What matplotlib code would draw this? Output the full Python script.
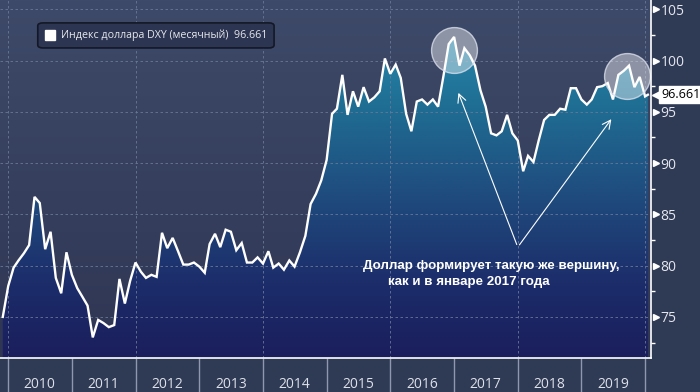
import matplotlib
matplotlib.use("Agg")
import matplotlib.pyplot as plt
import matplotlib.dates as mdates
import matplotlib.transforms as mtransforms
from matplotlib.colors import LinearSegmentedColormap
from matplotlib.patches import FancyBboxPatch
import numpy as np
import pandas as pd

# monthly DXY closes, Nov 2009 .. Dec 2019 (plotted at the start of the next month)
dxy = [75.0, 78.0,
       79.8, 80.5, 81.2, 82.0, 86.7, 86.1, 81.6, 83.3, 78.8, 77.3, 81.3, 79.1,
       77.8, 77.0, 76.1, 73.0, 74.7, 74.4, 74.0, 74.2, 78.7, 76.3, 78.5, 80.3,
       79.4, 78.8, 79.1, 78.9, 83.2, 81.7, 82.7, 81.4, 80.1, 80.1, 80.3, 79.9,
       79.3, 82.1, 83.1, 81.8, 83.5, 83.3, 81.5, 82.2, 80.3, 80.3, 80.8, 80.2,
       81.4, 79.8, 80.2, 79.6, 80.5, 79.9, 81.3, 82.9, 86.0, 87.0, 88.3, 90.3,
       94.8, 95.3, 98.6, 94.7, 97.0, 95.5, 97.4, 96.0, 96.4, 97.0, 100.2, 98.7,
       99.6, 98.3, 94.8, 93.1, 96.0, 96.2, 95.7, 96.2, 95.5, 98.5, 101.6, 102.3,
       99.5, 101.2, 100.5, 99.5, 97.1, 95.5, 92.9, 92.7, 93.1, 94.7, 92.9, 92.2,
       89.2, 90.7, 90.1, 92.2, 94.2, 94.7, 94.7, 95.3, 95.2, 97.3, 97.3, 96.2,
       95.7, 96.2, 97.4, 97.5, 97.8, 96.2, 98.6, 99.0, 99.5, 97.4, 98.4, 96.5]
last_date = "2020-01-17"
last_value = 96.661

dates = list(pd.date_range("2009-12-01", "2020-01-01", freq="MS")) + [pd.Timestamp(last_date)]
values = dxy + [last_value]

years = list(range(2010, 2020))
y_ticks = [75, 80, 85, 90, 95, 100, 105]

legend_text = "Индекс доллара DXY (месячный)  96.661"
note_line1 = "Доллар формирует такую же вершину,"
note_line2 = "как и в январе 2017 года"

# highlighted tops and arrow targets
circles = [("2017-01-01", 101.0), ("2019-09-22", 98.5)]
arrow_from = ("2018-01-01", 81.8)
arrow_to = [("2017-01-20", 97.1), ("2019-07-01", 94.5)]

fig = plt.figure(figsize=(7, 3.92), dpi=100, facecolor="#2f3a55")
ax = fig.add_axes([0.0, 0.087, 0.93, 0.913])

x0 = mdates.date2num(pd.Timestamp("2009-11-15"))
x1 = mdates.date2num(pd.Timestamp("2020-02-04"))
ax.set_xlim(x0, x1)
ax.set_ylim(71.0, 105.9)

# background gradient
bg = LinearSegmentedColormap.from_list("bg", ["#2f3654", "#3e4a69"])
ax.imshow(np.linspace(0, 1, 256).reshape(-1, 1), cmap=bg, origin="lower",
          extent=[0, 1, 0, 1], transform=ax.transAxes, aspect="auto", zorder=0)

# area fill gradient clipped to the curve
xs = mdates.date2num(dates)
fill = ax.fill_between(xs, values, 60, facecolor="none", edgecolor="none")
fc = LinearSegmentedColormap.from_list(
    "fc", [(0, "#1b1e5c"), (0.2, "#1c2c6a"), (0.45, "#1f4b7e"),
           (0.7, "#1f6d93"), (1.0, "#2b93b6")])
img = ax.imshow(np.linspace(0, 1, 256).reshape(-1, 1), cmap=fc, origin="lower",
                extent=[0, 1, 0, 1], transform=ax.transAxes, aspect="auto", zorder=1)
path = fill.get_paths()[0]
img.set_clip_path(path, transform=ax.transData)

ax.plot(xs, values, color="white", lw=1.7, zorder=4, solid_joinstyle="miter")

# grid
for y in y_ticks:
    ax.axhline(y, color="#6a7896", lw=0.6, ls=(0, (3, 3)), zorder=2)
for yr in range(2010, 2021, 2):
    ax.axvline(mdates.date2num(pd.Timestamp(f"{yr}-01-01")), color="#6a7896",
               lw=0.6, ls=(0, (3, 3)), zorder=2)

# spines
for s in ["top", "left"]:
    ax.spines[s].set_visible(False)
for s in ["right", "bottom"]:
    ax.spines[s].set_color("white")
    ax.spines[s].set_linewidth(1.2)
    ax.spines[s].set_zorder(6)

# x axis: year separators + centered labels
ax.set_xticks([mdates.date2num(pd.Timestamp(f"{y}-01-01")) for y in years + [2020]])
ax.set_xticklabels([])
ax.set_xticks([mdates.date2num(pd.Timestamp(f"{y}-07-01")) for y in years], minor=True)
ax.set_xticklabels([str(y) for y in years], minor=True)
ax.tick_params(axis="x", which="major", length=24.5, width=1, color="#8f98ad", direction="out")
ax.tick_params(axis="x", which="minor", length=0, pad=14, labelsize=10, labelcolor="#dde1ea")
for lab in ax.get_xticklabels(minor=True):
    lab.set_fontfamily("Open Sans")

# y axis on the right
ax.yaxis.tick_right()
ax.set_yticks(y_ticks)
ax.set_yticks([y + 2.5 for y in y_ticks[:-1]] + [72.5], minor=True)
ax.tick_params(axis="y", which="major", length=0, pad=7, labelsize=10, labelcolor="#e4e7ee")
ax.tick_params(axis="y", which="minor", length=3, width=1, color="white", direction="out")
for lab in ax.get_yticklabels():
    lab.set_fontfamily("Open Sans")
tri = mtransforms.blended_transform_factory(ax.transAxes, ax.transData)
ax.plot([1.007] * len(y_ticks), y_ticks, ls="none", marker=">", ms=5,
        color="white", transform=tri, clip_on=False, zorder=7)

# current value tag
ax.plot([1.01], [last_value], ls="none", marker="<", ms=9, color="white",
        transform=tri, clip_on=False, zorder=7)
ax.text(1.0155, last_value, f"{last_value:.3f}", transform=tri, va="center", ha="left",
        fontsize=9, color="black", family="Open Sans", zorder=8, clip_on=False,
        bbox=dict(boxstyle="square,pad=0.15", fc="white", ec="white"))

# circles around the tops
for d, v in circles:
    ax.plot(mdates.date2num(pd.Timestamp(d)), v, marker="o", ms=33, ls="none",
            mfc=(1, 1, 1, 0.42), mec=(0.85, 0.87, 0.92, 0.8), mew=1.0, zorder=5)

# arrows
start = (mdates.date2num(pd.Timestamp(arrow_from[0])), arrow_from[1])
for d, v in arrow_to:
    ax.annotate("", xy=(mdates.date2num(pd.Timestamp(d)), v), xytext=start,
                arrowprops=dict(arrowstyle="->,head_length=0.6,head_width=0.3",
                                color="white", lw=0.8), zorder=5)

# note
ax.text(mdates.date2num(pd.Timestamp("2015-07-27")), 80.0, note_line1, color="white",
        fontsize=9.6, fontweight="bold", family="Liberation Sans", va="center", zorder=6)
ax.text(mdates.date2num(pd.Timestamp("2015-12-20")), 78.4, note_line2, color="white",
        fontsize=9.6, fontweight="bold", family="Liberation Sans", va="center", zorder=6)

# legend box
box = FancyBboxPatch((0.058, 0.866), 0.363, 0.070, boxstyle="round,pad=0,rounding_size=0.008",
                     transform=ax.transAxes, fc="#2c3551", ec="#141826", lw=1.2, zorder=8)
ax.add_patch(box)
ax.plot([0.0775], [0.901], marker="s", ms=6.5, color="white", ls="none",
        transform=ax.transAxes, zorder=9)
ax.text(0.093, 0.901, legend_text, transform=ax.transAxes, fontsize=7.7, color="#e6e8ee",
        va="center", ha="left", family="Open Sans", zorder=9)

fig.savefig("out.png", dpi=100, facecolor=fig.get_facecolor())
